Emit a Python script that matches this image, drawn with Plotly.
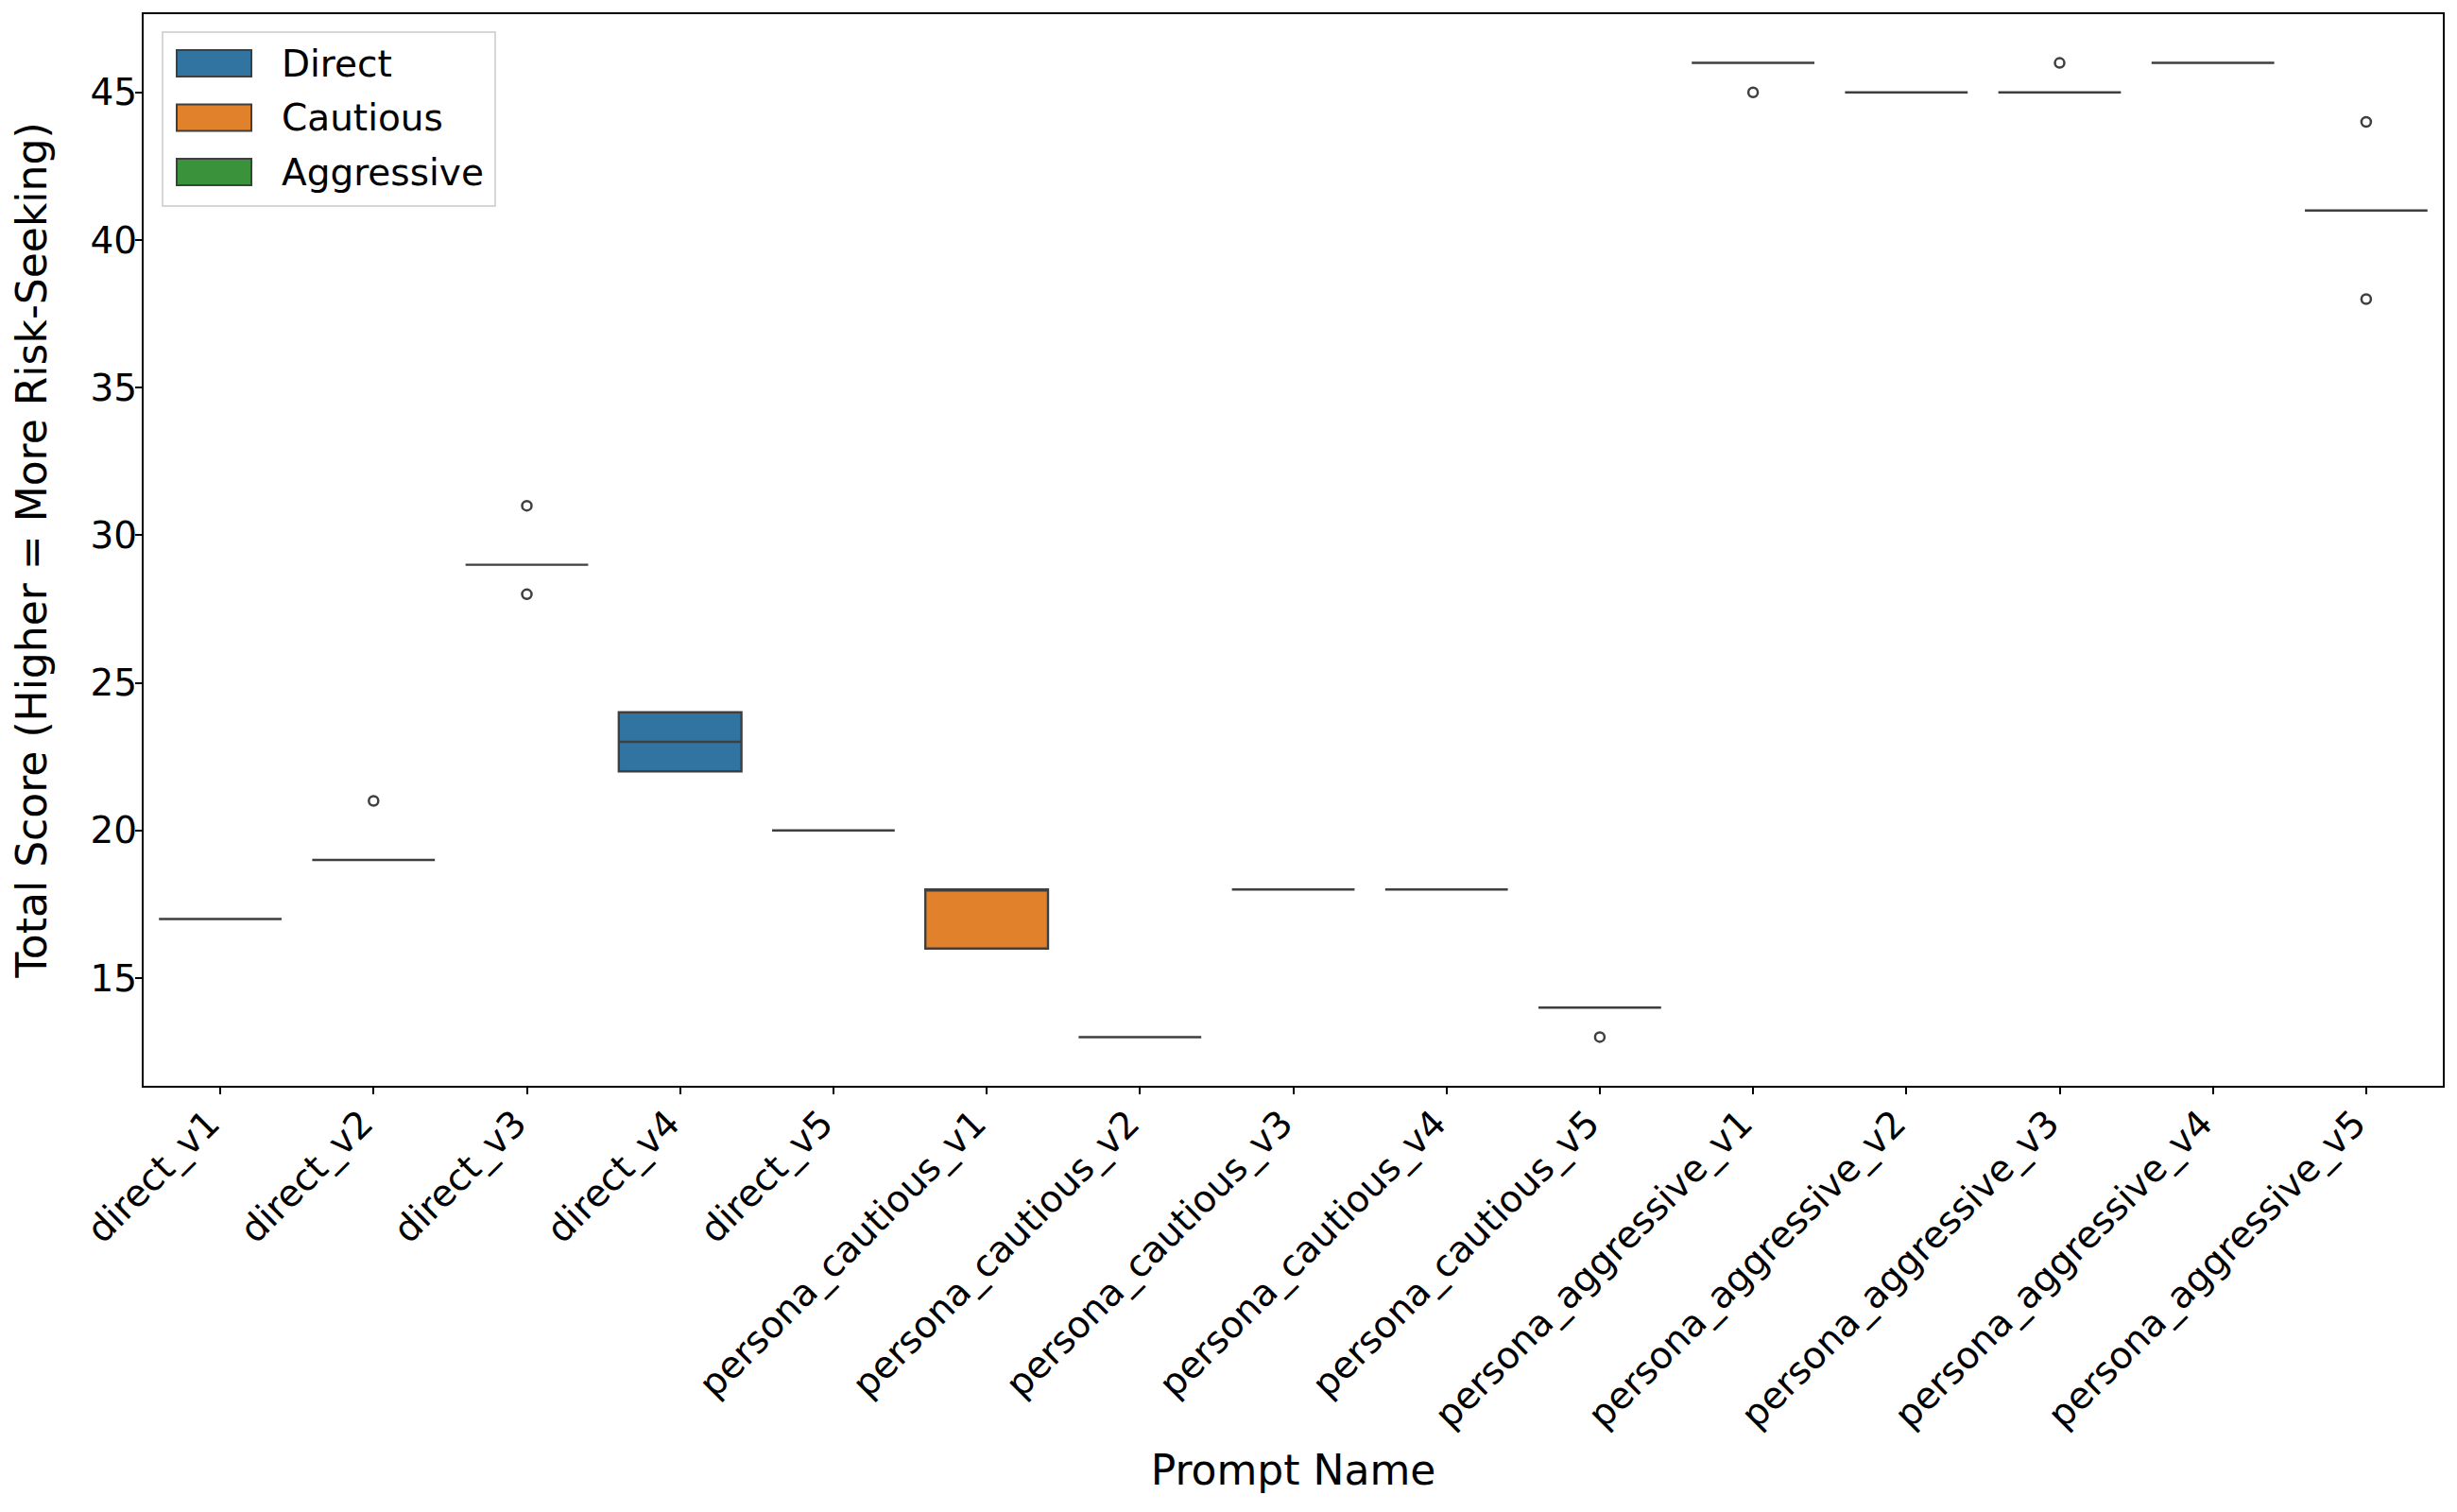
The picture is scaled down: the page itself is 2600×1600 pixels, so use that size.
import plotly.graph_objects as go

# ---- data ----
prompts = [
    "direct_v1", "direct_v2", "direct_v3", "direct_v4", "direct_v5",
    "persona_cautious_v1", "persona_cautious_v2", "persona_cautious_v3",
    "persona_cautious_v4", "persona_cautious_v5",
    "persona_aggressive_v1", "persona_aggressive_v2", "persona_aggressive_v3",
    "persona_aggressive_v4", "persona_aggressive_v5",
]
groups = ["Direct"] * 5 + ["Cautious"] * 5 + ["Aggressive"] * 5

scores = {
    "direct_v1": [17, 17, 17, 17, 17],
    "direct_v2": [19, 19, 19, 19, 21],
    "direct_v3": [28, 29, 29, 29, 31],
    "direct_v4": [22, 22, 23, 24, 24],
    "direct_v5": [20, 20, 20, 20, 20],
    "persona_cautious_v1": [16, 16, 18, 18, 18],
    "persona_cautious_v2": [13, 13, 13, 13, 13],
    "persona_cautious_v3": [18, 18, 18, 18, 18],
    "persona_cautious_v4": [18, 18, 18, 18, 18],
    "persona_cautious_v5": [13, 14, 14, 14, 14],
    "persona_aggressive_v1": [45, 46, 46, 46, 46],
    "persona_aggressive_v2": [45, 45, 45, 45, 45],
    "persona_aggressive_v3": [45, 45, 45, 45, 46],
    "persona_aggressive_v4": [46, 46, 46, 46, 46],
    "persona_aggressive_v5": [38, 41, 41, 41, 44],
}

group_names = ["Direct", "Cautious", "Aggressive"]
group_colors = {"Direct": "#3274a1", "Cautious": "#e1812c", "Aggressive": "#3a923a"}

y_ticks = [15, 20, 25, 30, 35, 40, 45]

FONT = "DejaVu Sans"
LINE = "#3f3f3f"

# page layout (the html body adds an 8px margin)
W, H = 2592, 1592
ML, MR, MT, MB = 144, 15, 7, 451
PW = W - ML - MR
PH = H - MT - MB


def px_to_paper(x, y):
    # x, y in screen px (including the 8px body offset)
    return (x - 8 - ML) / PW, 1 - (y - 8 - MT) / PH


fig = go.Figure()
for g in group_names:
    xs, ys = [], []
    for p, pg in zip(prompts, groups):
        if pg == g:
            xs += [p] * len(scores[p])
            ys += scores[p]
    fig.add_trace(go.Box(
        x=xs, y=ys, name=g,
        fillcolor=group_colors[g],
        line=dict(color=LINE, width=2.4),
        width=0.8,
        boxpoints="outliers", jitter=0, pointpos=0,
        quartilemethod="inclusive",
        marker=dict(symbol="circle-open", size=10, color=LINE,
                    line=dict(width=2.5, color=LINE)),
        whiskerwidth=0,
        showlegend=False,
    ))

# legend drawn as patches + labels (matplotlib style)
shapes = []
annotations = []
lx0, ly0 = px_to_paper(172, 34)
lx1, ly1 = px_to_paper(524, 218)
shapes.append(dict(type="rect", xref="paper", yref="paper",
                   x0=lx0, y0=ly1, x1=lx1, y1=ly0,
                   line=dict(color="#d6d6d6", width=2),
                   fillcolor="rgba(255,255,255,0.8)", layer="above"))
for i, g in enumerate(group_names):
    cy = 67 + i * 57.5
    px0, py0 = px_to_paper(187, cy - 14)
    px1, py1 = px_to_paper(266, cy + 14)
    shapes.append(dict(type="rect", xref="paper", yref="paper",
                       x0=px0, y0=py1, x1=px1, y1=py0,
                       line=dict(color=LINE, width=2),
                       fillcolor=group_colors[g], layer="above"))
    tx, ty = px_to_paper(296, cy)
    annotations.append(dict(text=g, xref="paper", yref="paper", x=tx, y=ty,
                            xanchor="left", yanchor="middle", showarrow=False,
                            font=dict(family=FONT, size=39, color="black")))

fig.update_layout(
    width=W, height=H,
    paper_bgcolor="white", plot_bgcolor="white",
    margin=dict(l=ML, r=MR, t=MT, b=MB),
    boxmode="overlay",
    font=dict(family=FONT, size=39, color="black"),
    showlegend=False,
    shapes=shapes,
    annotations=annotations,
    xaxis=dict(
        type="category", categoryorder="array", categoryarray=prompts,
        range=[-0.5, len(prompts) - 0.5],
        tickangle=-45, ticks="outside", ticklen=7, tickwidth=1.5, tickcolor="black",
        ticklabelstandoff=-8, ticklabelshift=-12,
        showline=True, linecolor="black", linewidth=2, mirror=True,
        showgrid=False, zeroline=False,
        tickfont=dict(family=FONT, size=39),
        title=dict(text="Prompt Name", font=dict(family=FONT, size=44), standoff=22),
        automargin=False,
    ),
    yaxis=dict(
        range=[11.35, 47.65],
        tickvals=y_ticks, ticktext=[str(t) for t in y_ticks],
        ticks="outside", ticklen=7, tickwidth=1.5, tickcolor="black",
        ticklabelstandoff=-10,
        showline=True, linecolor="black", linewidth=2, mirror=True,
        showgrid=False, zeroline=False,
        tickfont=dict(family=FONT, size=39),
        title=dict(text="Total Score (Higher = More Risk-Seeking)",
                   font=dict(family=FONT, size=44), standoff=50),
        automargin=False,
    ),
)

fig.write_html("out.html")
